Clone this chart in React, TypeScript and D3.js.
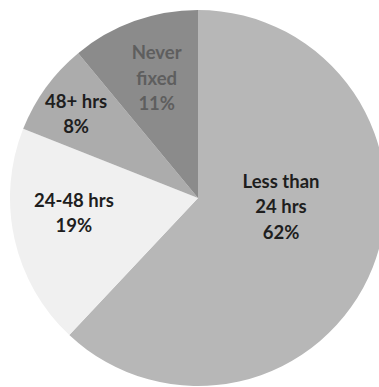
import React from "react";
import * as d3 from "d3";

const categories = ["Less than 24 hrs", "24-48 hrs", "48+ hrs", "Never fixed"];
const values = [62, 19, 8, 11];
const labelLines = [
  ["Less than", "24 hrs", "62%"],
  ["24-48 hrs", "19%"],
  ["48+ hrs", "8%"],
  ["Never", "fixed", "11%"],
];
const colors = ["#b7b7b7", "#f0f0f0", "#acacac", "#8b8b8b"];
const textColors = ["#1e1e1e", "#1e1e1e", "#1e1e1e", "#5e5e5e"];
// label placement: polar angle (deg, clockwise from top) and radius fraction
const labelAngles = [96, 263, 304.5, 341];
const labelRadii = [0.444, 0.665, 0.787, 0.675];

export default function App() {
  const W = 379, H = 387;
  const cx = 198, cy = 198, r = 188;
  const pie = d3.pie<number>().sort(null).value((d) => d)(values);
  const arc = d3.arc<d3.PieArcDatum<number>>().innerRadius(0).outerRadius(r);
  const lineH = 25.5;
  return (
    <svg width={W} height={H} style={{ position: "absolute", left: 0, top: 0, background: "#fff" }}>
      <g transform={`translate(${cx},${cy})`}>
        {pie.map((p, i) => (
          <path key={categories[i]} d={arc(p) || ""} fill={colors[i]} />
        ))}
        {pie.map((p, i) => {
          const a = (labelAngles[i] * Math.PI) / 180;
          const lr = r * labelRadii[i];
          const c = [lr * Math.sin(a), -lr * Math.cos(a)];
          const lines = labelLines[i];
          const y0 = c[1] - ((lines.length - 1) * lineH) / 2;
          return (
            <text
              key={"t" + i}
              textAnchor="middle"
              fontFamily="Lato, 'Open Sans', sans-serif"
              fontWeight="bold"
              fontSize={18.5}
              fill={textColors[i]}
            >
              {lines.map((l, j) => (
                <tspan key={j} x={c[0]} y={y0 + j * lineH} dy="0.35em">
                  {l}
                </tspan>
              ))}
            </text>
          );
        })}
      </g>
    </svg>
  );
}
